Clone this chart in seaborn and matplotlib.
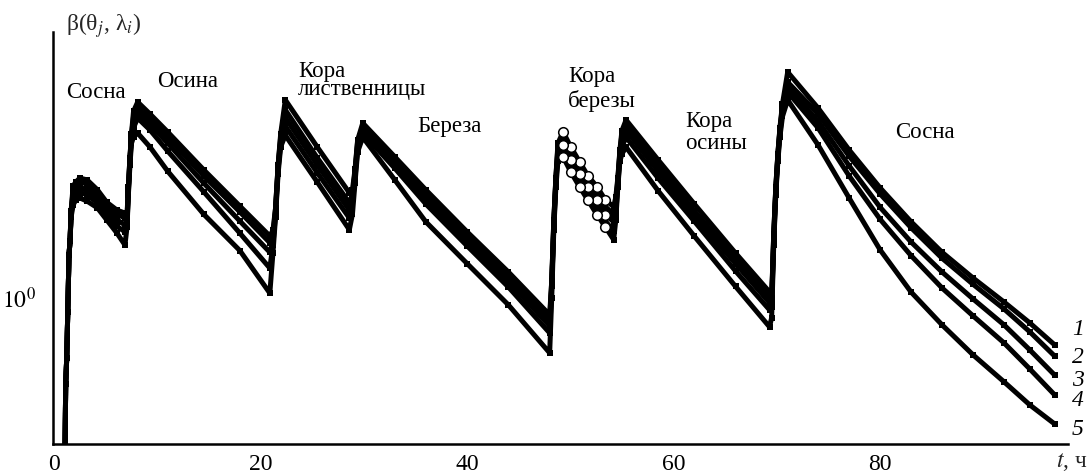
import matplotlib
matplotlib.use("Agg")
import matplotlib.pyplot as plt
import numpy as np
import pandas as pd
import seaborn as sns
from matplotlib.ticker import FixedLocator, FixedFormatter, NullFormatter

# ---------------- data ----------------
T = [1.05, 1.13, 1.23, 1.33, 1.45, 1.55, 1.65, 1.85, 2.1, 2.5, 3.2, 4.2, 5.1, 6.1, 6.87,
     7.07, 7.2, 7.35, 7.5, 7.7, 8.1, 9.3, 11.0, 14.5, 18.0, 20.9,
     21.2, 21.45, 21.7, 21.95, 22.4, 25.5, 28.6,
     28.9, 29.15, 29.4, 29.9, 33.0, 36.0, 40.0, 44.0, 48.0,
     48.2, 48.4, 48.6, 48.8, 49.3, 50.05, 50.9, 51.7, 52.6, 53.4, 54.2,
     54.4, 54.6, 54.8, 55.0, 55.4, 58.5, 62.0, 66.0, 69.3,
     69.5, 69.7, 69.9, 70.1, 70.3, 70.55, 71.05, 74.0, 77.0, 80.0, 83.0, 86.0, 89.0, 92.0, 94.5, 96.9]

CURVE_1 = [0.25, 0.49, 0.61, 0.89, 1.43, 1.60, 2.05, 2.53, 2.61, 2.70, 2.66, 2.45, 2.21, 2.07, 2.02,
           2.00, 2.50, 3.20, 3.90, 4.70, 5.07, 4.59, 3.96, 2.89, 2.14, 1.67,
           1.75, 2.10, 3.00, 3.90, 5.16, 3.49, 2.39,
           2.45, 2.90, 3.70, 4.26, 3.22, 2.45, 1.73, 1.24, 0.869,
           1.15, 1.90, 2.70, 3.60, 3.96, 3.49, 3.09, 2.75, 2.51, 2.25, 2.13,
           2.30, 2.70, 3.40, 4.00, 4.37, 3.14, 2.18, 1.45, 1.05,
           1.00, 1.70, 2.50, 3.30, 4.10, 5.00, 6.50, 4.82, 3.41, 2.49, 1.88, 1.46, 1.18, 0.967, 0.813, 0.678]

CURVE_2 = [0.25, 0.49, 0.61, 0.89, 1.43, 1.60, 2.03, 2.45, 2.55, 2.63, 2.56, 2.39, 2.16, 2.00, 1.94,
           1.95, 2.50, 3.20, 3.85, 4.50, 4.82, 4.40, 3.79, 2.75, 2.04, 1.58,
           1.65, 2.10, 3.00, 3.80, 4.75, 3.19, 2.20,
           2.35, 2.85, 3.65, 4.12, 3.11, 2.35, 1.66, 1.19, 0.827,
           1.15, 1.90, 2.70, 3.50, 3.76, 3.32, 2.93, 2.63, 2.39, 2.13, 2.00,
           2.20, 2.65, 3.35, 3.90, 4.19, 2.99, 2.06, 1.38, 1.00,
           0.98, 1.70, 2.50, 3.30, 4.05, 4.90, 5.98, 4.59, 3.24, 2.37, 1.79, 1.39, 1.12, 0.913, 0.755, 0.618]

CURVE_3 = [0.25, 0.49, 0.61, 0.89, 1.43, 1.60, 2.01, 2.38, 2.45, 2.50, 2.45, 2.29, 2.07, 1.91, 1.83,
           1.90, 2.45, 3.15, 3.80, 4.30, 4.63, 4.22, 3.61, 2.59, 1.89, 1.46,
           1.60, 2.05, 2.95, 3.70, 4.45, 3.01, 2.07,
           2.30, 2.80, 3.55, 4.02, 3.03, 2.27, 1.60, 1.15, 0.793,
           1.10, 1.85, 2.65, 3.40, 3.55, 3.14, 2.79, 2.51, 2.25, 1.99, 1.88,
           2.10, 2.60, 3.30, 3.70, 4.02, 2.86, 1.97, 1.33, 0.96,
           0.96, 1.65, 2.45, 3.25, 4.00, 4.80, 5.74, 4.33, 2.99, 2.12, 1.59, 1.24, 0.992, 0.800, 0.650, 0.528]

CURVE_4 = [0.25, 0.49, 0.61, 0.89, 1.43, 1.60, 1.98, 2.30, 2.36, 2.40, 2.35, 2.20, 2.00, 1.81, 1.73,
           1.85, 2.40, 3.10, 3.75, 4.10, 4.44, 4.02, 3.38, 2.41, 1.71, 1.28,
           1.55, 2.00, 2.90, 3.60, 4.15, 2.82, 1.94,
           2.20, 2.70, 3.45, 3.92, 2.93, 2.18, 1.54, 1.095, 0.748,
           1.10, 1.80, 2.60, 3.30, 3.38, 2.99, 2.66, 2.39, 2.13, 1.89, 1.74,
           2.00, 2.55, 3.20, 3.50, 3.79, 2.70, 1.89, 1.25, 0.905,
           0.93, 1.60, 2.40, 3.20, 3.90, 4.70, 5.51, 4.09, 2.75, 1.92, 1.42, 1.086, 0.862, 0.689, 0.555, 0.448]

CURVE_5 = [0.25, 0.49, 0.61, 0.89, 1.43, 1.60, 1.95, 2.16, 2.25, 2.29, 2.23, 2.11, 1.91, 1.71, 1.55,
           1.80, 2.35, 3.00, 3.60, 3.80, 3.92, 3.49, 2.86, 2.00, 1.48, 1.04,
           1.45, 1.95, 2.80, 3.50, 3.85, 2.61, 1.76,
           2.00, 2.60, 3.35, 3.79, 2.66, 1.88, 1.33, 0.944, 0.634,
           1.00, 1.75, 2.50, 3.10, 3.22, 2.84, 2.51, 2.25, 1.99, 1.80, 1.62,
           1.90, 2.50, 3.10, 3.30, 3.49, 2.43, 1.67, 1.10, 0.786,
           0.85, 1.55, 2.35, 3.10, 3.80, 4.50, 5.16, 3.55, 2.29, 1.49, 1.05, 0.800, 0.624, 0.499, 0.412, 0.352]

CIRCLE_T = [49.3, 50.05, 50.9, 51.7, 52.6, 53.4]   # birch-bark points drawn as open circles
CIRCLE_CURVES = ["1", "3", "5"]
CURVE_NAMES = ["1", "2", "3", "4", "5"]
SEGMENT_NAMES = ["Сосна", "Осина", "Кора\nлиственницы", "Береза",
                 "Кора\nберезы", "Кора\nосины", "Сосна"]
X_TICKS = [0, 20, 40, 60, 80]
X_MINOR = [5, 10, 15, 25, 30, 35, 45, 50, 55, 65, 70, 75, 85, 90, 95]
Y_MINOR = [0.3, 0.4, 0.5, 0.6, 0.7, 0.8, 0.9, 2, 3, 4, 5, 6, 7, 8, 9]

# ---------------- build frame ----------------
curves = [CURVE_1, CURVE_2, CURVE_3, CURVE_4, CURVE_5]
frames = []
for name, vals in zip(CURVE_NAMES, curves):
    frames.append(pd.DataFrame({"t": T, "beta": vals, "curve": name}))
df = pd.concat(frames, ignore_index=True)
df_circ = df[df["t"].isin(CIRCLE_T) & df["curve"].isin(CIRCLE_CURVES)]

# ---------------- style ----------------
sns.set_theme(style="white")
plt.rcParams["font.family"] = ["Liberation Serif", "DejaVu Serif"]
plt.rcParams["mathtext.fontset"] = "stix"
plt.rcParams["axes.unicode_minus"] = False

W, H = 1091, 474
fig = plt.figure(figsize=(W / 100, H / 100), dpi=100)
ax = fig.add_axes([53 / W, 1 - 444 / H, (1068 - 53) / W, (444 - 32) / H])
ax.set_yscale("log")

sns.lineplot(data=df, x="t", y="beta", hue="curve", units="curve", estimator=None,
             sort=False, palette=["black"] * 5, legend=False, ax=ax,
             linewidth=3.6, marker="s", markersize=5, markeredgewidth=0)
sns.scatterplot(data=df_circ, x="t", y="beta", ax=ax, marker="o", s=48,
                facecolor="white", edgecolor="black", linewidth=1.1, zorder=5,
                legend=False)

ax.set_xlim(-0.1, 98.2)
ax.set_ylim(0.298, 9.06)
ax.set_xlabel("")
ax.set_ylabel("")

# ticks
ax.xaxis.set_major_locator(FixedLocator(X_TICKS))
ax.xaxis.set_minor_locator(FixedLocator(X_MINOR))
ax.xaxis.set_major_formatter(FixedFormatter([str(v) for v in X_TICKS]))
ax.yaxis.set_major_locator(FixedLocator([1.0]))
ax.yaxis.set_major_formatter(FixedFormatter([r"$10^0$"]))
ax.yaxis.set_minor_locator(FixedLocator(Y_MINOR))
ax.yaxis.set_minor_formatter(NullFormatter())
ax.tick_params(axis="both", which="both", direction="in", color="black",
               labelsize=17, labelcolor="black")
ax.tick_params(axis="x", which="major", length=9, width=1.2, pad=7)
ax.tick_params(axis="x", which="minor", length=5, width=1.0)
ax.tick_params(axis="y", which="major", length=8, width=1.2, pad=12)
ax.tick_params(axis="y", which="minor", length=5, width=1.0)

for s in ["top", "right"]:
    ax.spines[s].set_visible(False)
for s in ["left", "bottom"]:
    ax.spines[s].set_color("black")
    ax.spines[s].set_linewidth(1.8)
ax.grid(False)

# ---------------- text ----------------
def fx(px):
    return px / W

def fy(py):
    return 1 - py / H

# (left px, top px, line spacing) for each segment label
seg_pos = [(66, 82, 1.0), (157, 71, 1.0), (298, 61, 0.83), (417, 116, 1.0),
           (568, 66, 1.15), (685, 111, 1.09), (895, 122, 1.0)]
for name, (px, py, ls) in zip(SEGMENT_NAMES, seg_pos):
    fig.text(fx(px), fy(py), name, fontsize=16.5, ha="left", va="top",
             linespacing=ls, color="black")

num_pos = [335, 363, 386, 406, 435]
for name, py in zip(CURVE_NAMES, num_pos):
    fig.text(fx(1072), fy(py), name, fontsize=17, fontstyle="italic",
             ha="left", va="baseline", color="black")

fig.text(fx(66), fy(31), r"β(θ$_j$, λ$_i$)", fontsize=17, ha="left", va="baseline")
fig.text(fx(1056), fy(467), r"$t$, ч", fontsize=17, ha="left", va="baseline")

fig.savefig("out.png", dpi=100)
